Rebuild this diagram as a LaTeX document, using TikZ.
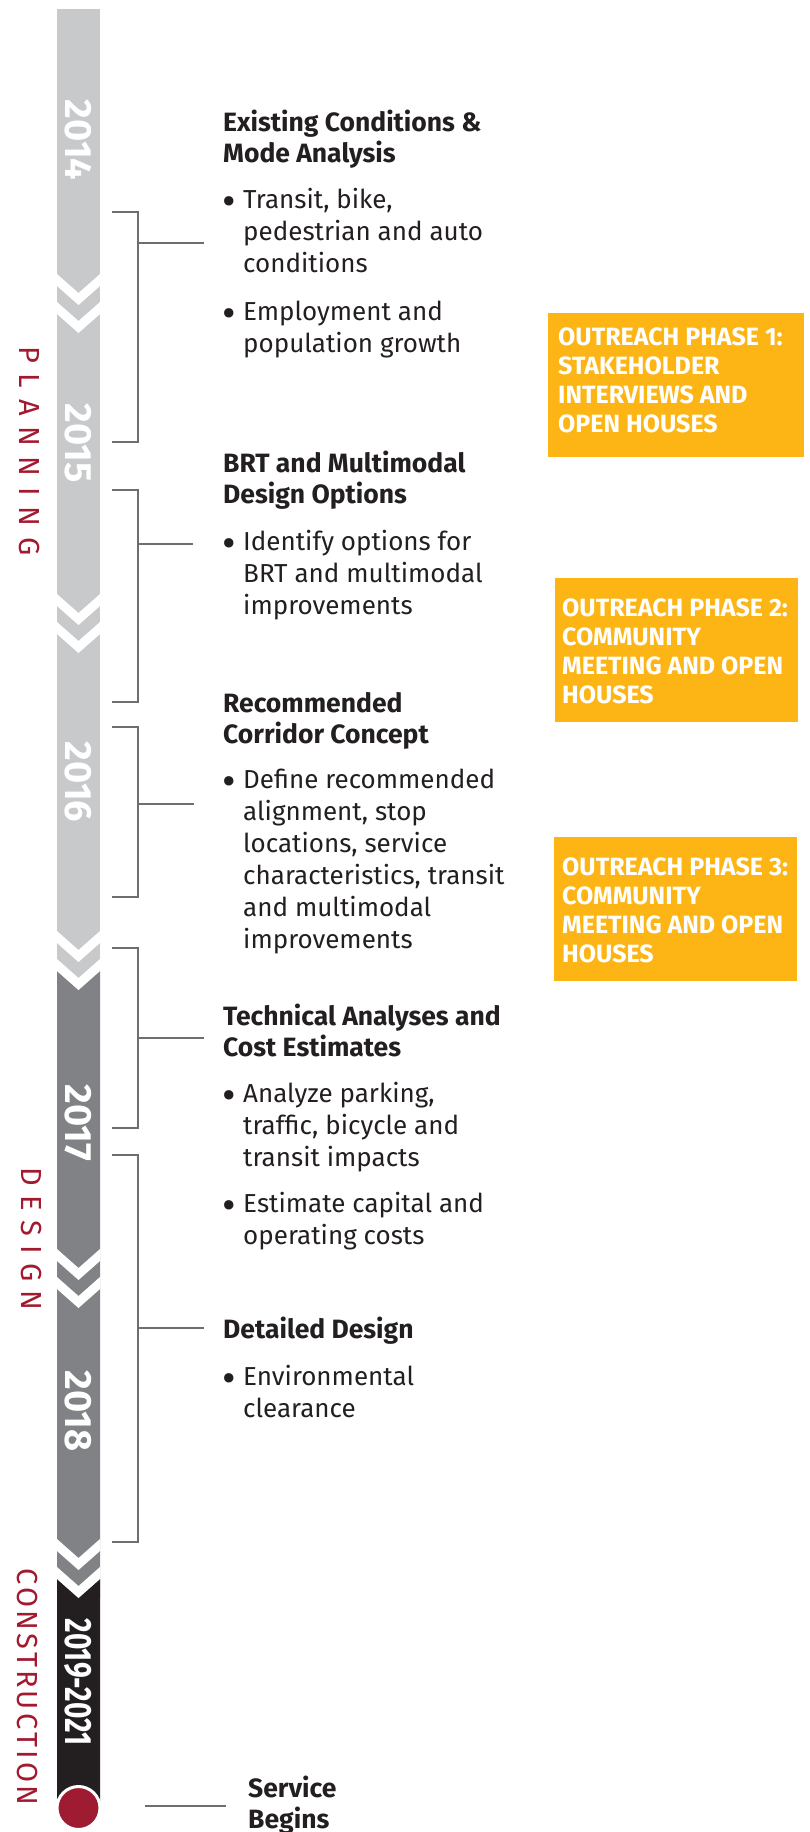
\documentclass[tikz,border=0pt]{standalone}
\usepackage{fontspec}
\setmainfont{Fira Sans}
\definecolor{lgray}{HTML}{C8C9CB}
\definecolor{dgray}{HTML}{808285}
\definecolor{blk}{HTML}{231F20}
\definecolor{brkgray}{HTML}{6D6E71}
\definecolor{ink}{HTML}{231F20}
\definecolor{phasered}{HTML}{A3192F}
\definecolor{dotred}{HTML}{9E1B32}
\definecolor{outreach}{HTML}{FDB515}
\newcommand{\bigbul}{\raisebox{-7pt}{\scalebox{1.6}{•}}}
\tikzset{
  brk/.style={draw=brkgray, line width=2.2pt},
  head/.style={anchor=base west, align=left, inner sep=0pt, text=ink,
    font=\bfseries\fontsize{26.5}{31}\selectfont},
  body/.style={anchor=base west, align=left, inner sep=0pt, text=ink,
    font=\fontsize{26}{32}\selectfont},
  year/.style={text=white, rotate=-90, inner sep=0pt,
    font=\bfseries\fontsize{38}{38}\selectfont},
  phase/.style={text=phasered, rotate=-90, inner sep=0pt},
  obox/.style={fill=outreach, draw=none, anchor=north west, inner sep=0pt},
  otext/.style={anchor=base west, align=left, inner sep=0pt, text=white,
    font=\bfseries\fontsize{25}{29}\selectfont},
}
\newcommand{\wband}[1]{%
  \fill[white] (57,#1-19) -- (78.5,#1) -- (100,#1-19) -- (100,#1-7) -- (78.5,#1+12) -- (57,#1-7) -- cycle;
  \fill[white] (57,#1+9) -- (78.5,#1+28) -- (100,#1+9) -- (100,#1+21) -- (78.5,#1+40) -- (57,#1+21) -- cycle;}
\begin{document}
\begin{tikzpicture}[x=1pt,y=-1pt]
\useasboundingbox (0,0) rectangle (809,1832);
% ---- timeline bar ----
\fill[lgray] (57,9) rectangle (100,990);
\fill[dgray] (57,971) -- (78.5,990) -- (100,971) -- (100,1598) -- (57,1598) -- cycle;
\fill[blk] (57,1579) -- (78.5,1598) -- (100,1579) -- (100,1808) -- (57,1808) -- cycle;
\wband{293}
\wband{613}
\wband{950}
\wband{1268}
\wband{1558}
\node[circle, fill=dotred, draw=white, line width=3pt, minimum size=43pt, inner sep=0pt] (dot) at (78.5,1808) {};
% ---- years ----
\node[year] (y14) at (78.5,140) {2014};
\node[year] (y15) at (78.5,443) {2015};
\node[year] (y16) at (78.5,782) {2016};
\node[year] (y17) at (78.5,1123) {2017};
\node[year] (y18) at (78.5,1411) {2018};
\node[year] (y19) at (78.5,1682) {\scalebox{0.74}[1]{2019-2021}};
% ---- phases ----
\node[phase, font=\fontsize{29}{29}\selectfont\addfontfeature{LetterSpace=37}] (pplan) at (29,451) {PLANNING};
\node[phase, font=\fontsize{29}{29}\selectfont\addfontfeature{LetterSpace=32}] (pdes) at (31,1239) {DESIGN};
\node[phase, font=\fontsize{29}{29}\selectfont\addfontfeature{LetterSpace=11}] (pcon) at (27,1687) {CONSTRUCTION};
% ---- brackets ----
\coordinate (b1a) at (112,212); \coordinate (b1b) at (112,442);
\coordinate (b1m) at (138,243); \coordinate (b1e) at (204,243);
\draw[brk] (b1a) -| (b1m) |- (b1b); \draw[brk] (b1m) -- (b1e);
\coordinate (b2a) at (112,490); \coordinate (b2b) at (112,702);
\coordinate (b2m) at (138,544); \coordinate (b2e) at (193,544);
\draw[brk] (b2a) -| (b2m) |- (b2b); \draw[brk] (b2m) -- (b2e);
\coordinate (b3a) at (112,727); \coordinate (b3b) at (112,897);
\coordinate (b3m) at (138,804); \coordinate (b3e) at (194,804);
\draw[brk] (b3a) -| (b3m) |- (b3b); \draw[brk] (b3m) -- (b3e);
\coordinate (b4a) at (112,948); \coordinate (b4b) at (112,1128);
\coordinate (b4m) at (138,1038); \coordinate (b4e) at (204,1038);
\draw[brk] (b4a) -| (b4m) |- (b4b); \draw[brk] (b4m) -- (b4e);
\coordinate (b5a) at (112,1155); \coordinate (b5b) at (112,1542);
\coordinate (b5m) at (138,1328); \coordinate (b5e) at (204,1328);
\draw[brk] (b5a) -| (b5m) |- (b5b); \draw[brk] (b5m) -- (b5e);
\coordinate (sva) at (145,1806); \coordinate (svb) at (226,1806);
\draw[brk] (sva) -- (svb);
% ---- text blocks (anchored at the baseline of the last line) ----
\node[head] (h1) at (223,162) {Existing Conditions \&\\Mode Analysis};
\node[body] (d1a) at (222,208) {\bigbul}; \node[body] (t1a) at (243,272) {Transit, bike,\\pedestrian and auto\\conditions};
\node[body] (d1b) at (222,320) {\bigbul}; \node[body] (t1b) at (243,352) {Employment and\\population growth};
\node[head] (h2) at (223,503) {BRT and Multimodal\\Design Options};
\node[body] (d2a) at (222,550) {\bigbul}; \node[body] (t2a) at (243,614) {Identify options for\\BRT and multimodal\\improvements};
\node[head] (h3) at (223,743) {Recommended\\Corridor Concept};
\node[body] (d3a) at (222,788) {\bigbul}; \node[body] (t3a) at (243,948) {Define recommended\\alignment, stop\\locations, service\\characteristics, transit\\and multimodal\\improvements};
\node[head] (h4) at (223,1056) {Technical Analyses and\\Cost Estimates};
\node[body] (d4a) at (222,1102) {\bigbul}; \node[body] (t4a) at (243,1166) {Analyze parking,\\traffic, bicycle and\\transit impacts};
\node[body] (d4b) at (222,1212) {\bigbul}; \node[body] (t4b) at (243,1244) {Estimate capital and\\operating costs};
\node[head] (h5) at (223,1338) {Detailed Design};
\node[body] (d5a) at (222,1385) {\bigbul}; \node[body] (t5a) at (243,1417) {Environmental\\clearance};
\node[head] (h6) at (248,1828) {Service\\Begins};
% ---- outreach boxes ----
\node[obox, minimum width=256pt, minimum height=144pt] (ob1) at (548,313) {};
\node[otext] (ot1) at (558,432) {OUTREACH PHASE 1:\\STAKEHOLDER\\INTERVIEWS AND\\OPEN HOUSES};
\node[obox, minimum width=243pt, minimum height=144pt] (ob2) at (555,578) {};
\node[otext] (ot2) at (562,703) {OUTREACH PHASE 2:\\COMMUNITY\\MEETING AND OPEN\\HOUSES};
\node[obox, minimum width=243pt, minimum height=144pt] (ob3) at (554,837) {};
\node[otext] (ot3) at (562,962) {OUTREACH PHASE 3:\\COMMUNITY\\MEETING AND OPEN\\HOUSES};
\end{tikzpicture}
\end{document}
